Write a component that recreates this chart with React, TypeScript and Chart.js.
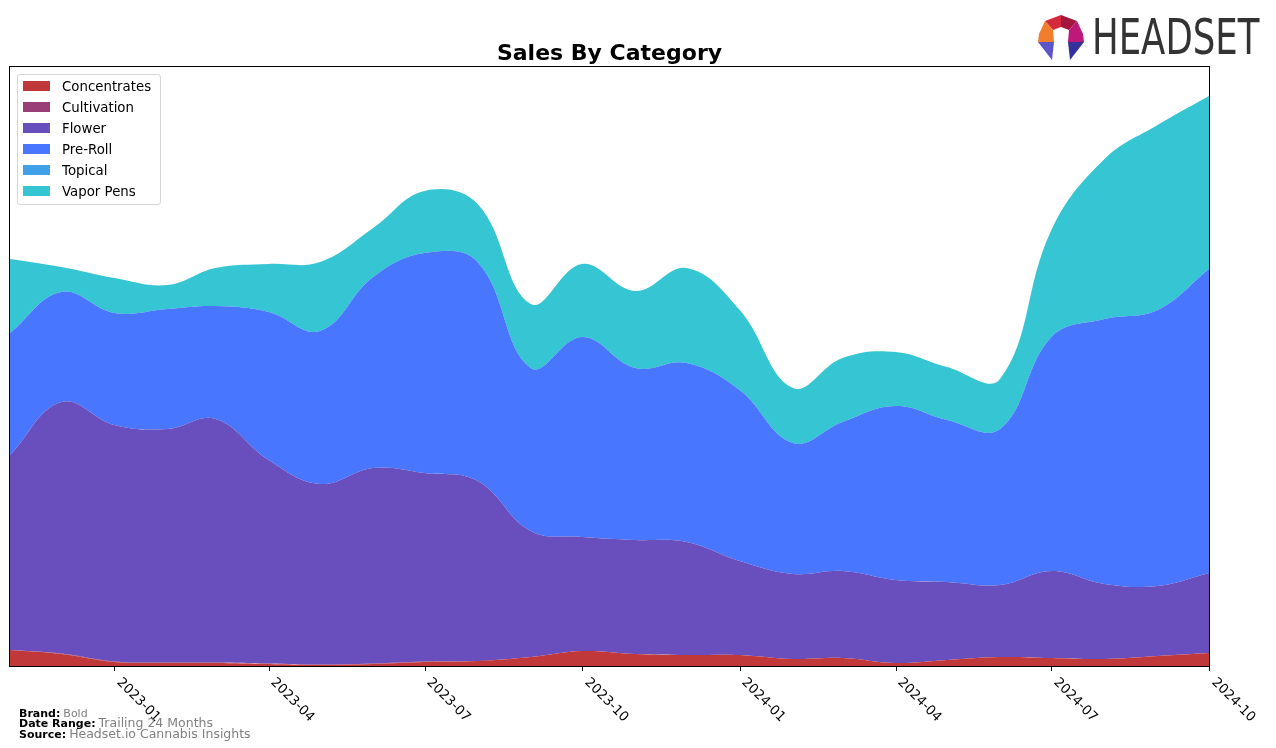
import React, { useEffect, useRef, useState } from "react";
import { Chart, registerables } from "chart.js";

Chart.register(...registerables);

const months = [
  "2022-11", "2022-12", "2023-01", "2023-02", "2023-03", "2023-04",
  "2023-05", "2023-06", "2023-07", "2023-08", "2023-09", "2023-10",
  "2023-11", "2023-12", "2024-01", "2024-02", "2024-03", "2024-04",
  "2024-05", "2024-06", "2024-07", "2024-08", "2024-09", "2024-10",
];

const concentrates = [16, 12, 4, 3, 3, 2, 1, 2, 4, 5, 9, 15, 12, 11, 11, 7, 8, 3, 6, 9, 8, 7, 10, 13];
const cultivation = [0, 0.5, 0.5, 0.5, 0.5, 0.5, 0.5, 0.5, 0.5, 0, 0, 0, 0, 0, 0, 0, 0, 0, 0, 0, 0, 0, 0, 0];
const flower = [195, 251.5, 236.5, 233.5, 243.5, 203.5, 180.5, 195.5, 188.5, 180, 126, 114, 114, 113, 94, 85, 87, 83, 78, 72, 87, 75, 70, 80];
const preRoll = [122, 110, 112, 120, 113, 148, 153, 191, 220, 219, 163, 200, 172, 179, 171, 131, 149, 174, 162, 156, 234, 265, 276, 304];
const topical = [0, 0, 0, 0, 0, 0, 0, 0, 0, 0, 0, 0, 0, 0, 0, 0, 0, 0, 0, 0, 0, 0, 0, 0];
const vaporPens = [74, 25, 35, 24, 38, 48, 69, 49, 62, 58, 64, 73, 77, 95, 80, 55, 64, 54, 53, 50, 107, 160, 185, 173];

const tickMonths = ["2023-01", "2023-04", "2023-07", "2023-10", "2024-01", "2024-04", "2024-07", "2024-10"];

const seriesNames = ["Concentrates", "Cultivation", "Flower", "Pre-Roll", "Topical", "Vapor Pens"];
const seriesColors = ["#C1383B", "#993E77", "#694FBD", "#4876FF", "#40A0E8", "#35C5D3"];
const seriesValues = [concentrates, cultivation, flower, preRoll, topical, vaporPens];

const yMax = 599;

function dayOf(m: string): number {
  const [y0, m0] = months[0].split("-").map(Number);
  const [y, mo] = m.split("-").map(Number);
  return (Date.UTC(y, mo - 1, 1) - Date.UTC(y0, m0 - 1, 1)) / 86400000;
}

const FONT = "'DejaVu Sans', sans-serif";

export default function App() {
  const canvasRef = useRef<HTMLCanvasElement | null>(null);
  const [ticks, setTicks] = useState<{ label: string; x: number; y: number }[]>([]);
  const [area, setArea] = useState({ left: 10, right: 1209, top: 67, bottom: 666 });

  useEffect(() => {
    const canvas = canvasRef.current;
    if (!canvas) return;
    const framePlugin = {
      id: "frame",
      afterDraw(chart: any) {
        const { ctx, chartArea } = chart;
        const xs = chart.scales.x;
        ctx.save();
        ctx.strokeStyle = "#000";
        ctx.lineWidth = 1;
        ctx.strokeRect(
          Math.round(chartArea.left) - 0.5,
          Math.round(chartArea.top) - 0.5,
          Math.round(chartArea.right - chartArea.left) + 1,
          Math.round(chartArea.bottom - chartArea.top) + 1
        );
        ctx.beginPath();
        tickMonths.forEach((m) => {
          const px = Math.round(xs.getPixelForValue(dayOf(m))) + 0.5;
          ctx.moveTo(px, chartArea.bottom);
          ctx.lineTo(px, chartArea.bottom + 5);
        });
        ctx.stroke();
        ctx.restore();
      },
    };

    const chart = new Chart(canvas, {
      type: "line",
      data: {
        datasets: seriesNames.map((name, i) => ({
          label: name,
          data: months.map((m, j) => ({ x: dayOf(m), y: seriesValues[i][j] })),
          backgroundColor: seriesColors[i],
          borderColor: seriesColors[i],
          borderWidth: 0,
          pointRadius: 0,
          fill: i === 0 ? "origin" : "-1",
          tension: 0.4,
        })),
      },
      options: {
        responsive: false,
        animation: false,
        devicePixelRatio: 1,
        layout: { padding: { left: 10, right: 67, top: 67, bottom: 0 } },
        plugins: { legend: { display: false }, tooltip: { enabled: false }, title: { display: false } },
        scales: {
          x: {
            type: "linear",
            min: 0,
            max: dayOf(months[months.length - 1]),
            ticks: { display: false },
            grid: { display: false },
            border: { display: false },
            afterFit: (scale: any) => {
              scale.height = 82;
            },
          },
          y: {
            stacked: true,
            min: 0,
            max: yMax,
            display: false,
          },
        },
      },
      plugins: [framePlugin],
    });

    const ca = chart.chartArea;
    setArea({ left: ca.left, right: ca.right, top: ca.top, bottom: ca.bottom });
    setTicks(
      tickMonths.map((m) => ({
        label: m,
        x: chart.scales.x.getPixelForValue(dayOf(m)),
        y: ca.bottom,
      }))
    );

    return () => chart.destroy();
  }, []);

  const legendTop = 74;
  const rowH = 21;

  return (
    <div style={{ position: "absolute", left: 0, top: 0, width: 1276, height: 748, background: "#fff", fontFamily: FONT, overflow: "hidden" }}>
      <canvas ref={canvasRef} width={1276} height={748} style={{ position: "absolute", left: 0, top: 0, width: 1276, height: 748 }} />

      {/* Title */}
      <div
        style={{
          position: "absolute",
          left: (area.left + area.right) / 2 - 300,
          width: 600,
          top: 41.5,
          textAlign: "center",
          fontSize: 22,
          lineHeight: "22px",
          fontWeight: "bold",
          color: "#000",
          whiteSpace: "nowrap",
        }}
      >
        Sales By Category
      </div>

      {/* Legend */}
      <div
        style={{
          position: "absolute",
          left: 17,
          top: legendTop,
          width: 142,
          height: 129,
          border: "1px solid #d6d6d6",
          borderRadius: 3,
          background: "rgba(255,255,255,0.8)",
        }}
      />
      {seriesNames.map((name, i) => (
        <React.Fragment key={name}>
          <div
            style={{
              position: "absolute",
              left: 23,
              top: 81.3 + i * rowH,
              width: 27,
              height: 9.5,
              background: seriesColors[i],
            }}
          />
          <div
            style={{
              position: "absolute",
              left: 62,
              top: 91.5 + i * rowH - 11.3,
              fontSize: 13.33,
              lineHeight: "13.33px",
              color: "#000",
              whiteSpace: "nowrap",
            }}
          >
            {name}
          </div>
        </React.Fragment>
      ))}

      {/* X tick labels */}
      {ticks.map((t) => (
        <div
          key={t.label}
          style={{
            position: "absolute",
            left: t.x + 9.5,
            top: t.y + 9,
            fontSize: 13.33,
            lineHeight: "13.33px",
            color: "#000",
            whiteSpace: "nowrap",
            transform: "rotate(45deg)",
            transformOrigin: "0 0",
          }}
        >
          {t.label}
        </div>
      ))}

      {/* Footer */}
      <div style={{ position: "absolute", left: 19, top: 717 - 9.5, fontSize: 11, lineHeight: "11px", whiteSpace: "nowrap" }}>
        <span style={{ fontWeight: "bold", color: "#000" }}>Brand:</span>
        <span style={{ color: "#808080", marginLeft: 3 }}>Bold</span>
      </div>
      <div style={{ position: "absolute", left: 19, top: 725.5 - 10.5, lineHeight: "13px", whiteSpace: "nowrap" }}>
        <span style={{ fontWeight: "bold", color: "#000", fontSize: 11 }}>Date Range:</span>
        <span style={{ color: "#808080", marginLeft: 3, fontSize: 12.5 }}>Trailing 24 Months</span>
      </div>
      <div style={{ position: "absolute", left: 19, top: 736 - 10.5, lineHeight: "13px", whiteSpace: "nowrap" }}>
        <span style={{ fontWeight: "bold", color: "#000", fontSize: 11 }}>Source:</span>
        <span style={{ color: "#808080", marginLeft: 3, fontSize: 12.5 }}>Headset.io Cannabis Insights</span>
      </div>

      {/* Logo */}
      <svg style={{ position: "absolute", left: 1038, top: 14 }} width={47} height={47} viewBox="0 0 47 47">
        <polygon points="23,1 7,7 15,16 23,13" fill="#D42A3C" />
        <polygon points="23,1 39,7 31,16 23,13" fill="#A3173F" />
        <polygon points="7,7 1,20 0,28 16,28 15,16" fill="#F07E2C" />
        <polygon points="39,7 45,20 46,28 30,28 31,16" fill="#BE1878" />
        <polygon points="0,28 16,28 14,46" fill="#5B55C8" />
        <polygon points="46,28 30,28 32,46" fill="#34329A" />
      </svg>
      <div
        style={{
          position: "absolute",
          left: 1092,
          top: 12,
          fontSize: 50,
          lineHeight: "50px",
          color: "#333",
          whiteSpace: "nowrap",
          transform: "scaleX(0.71)",
          transformOrigin: "0 0",
        }}
      >
        HEADSET
      </div>
    </div>
  );
}
